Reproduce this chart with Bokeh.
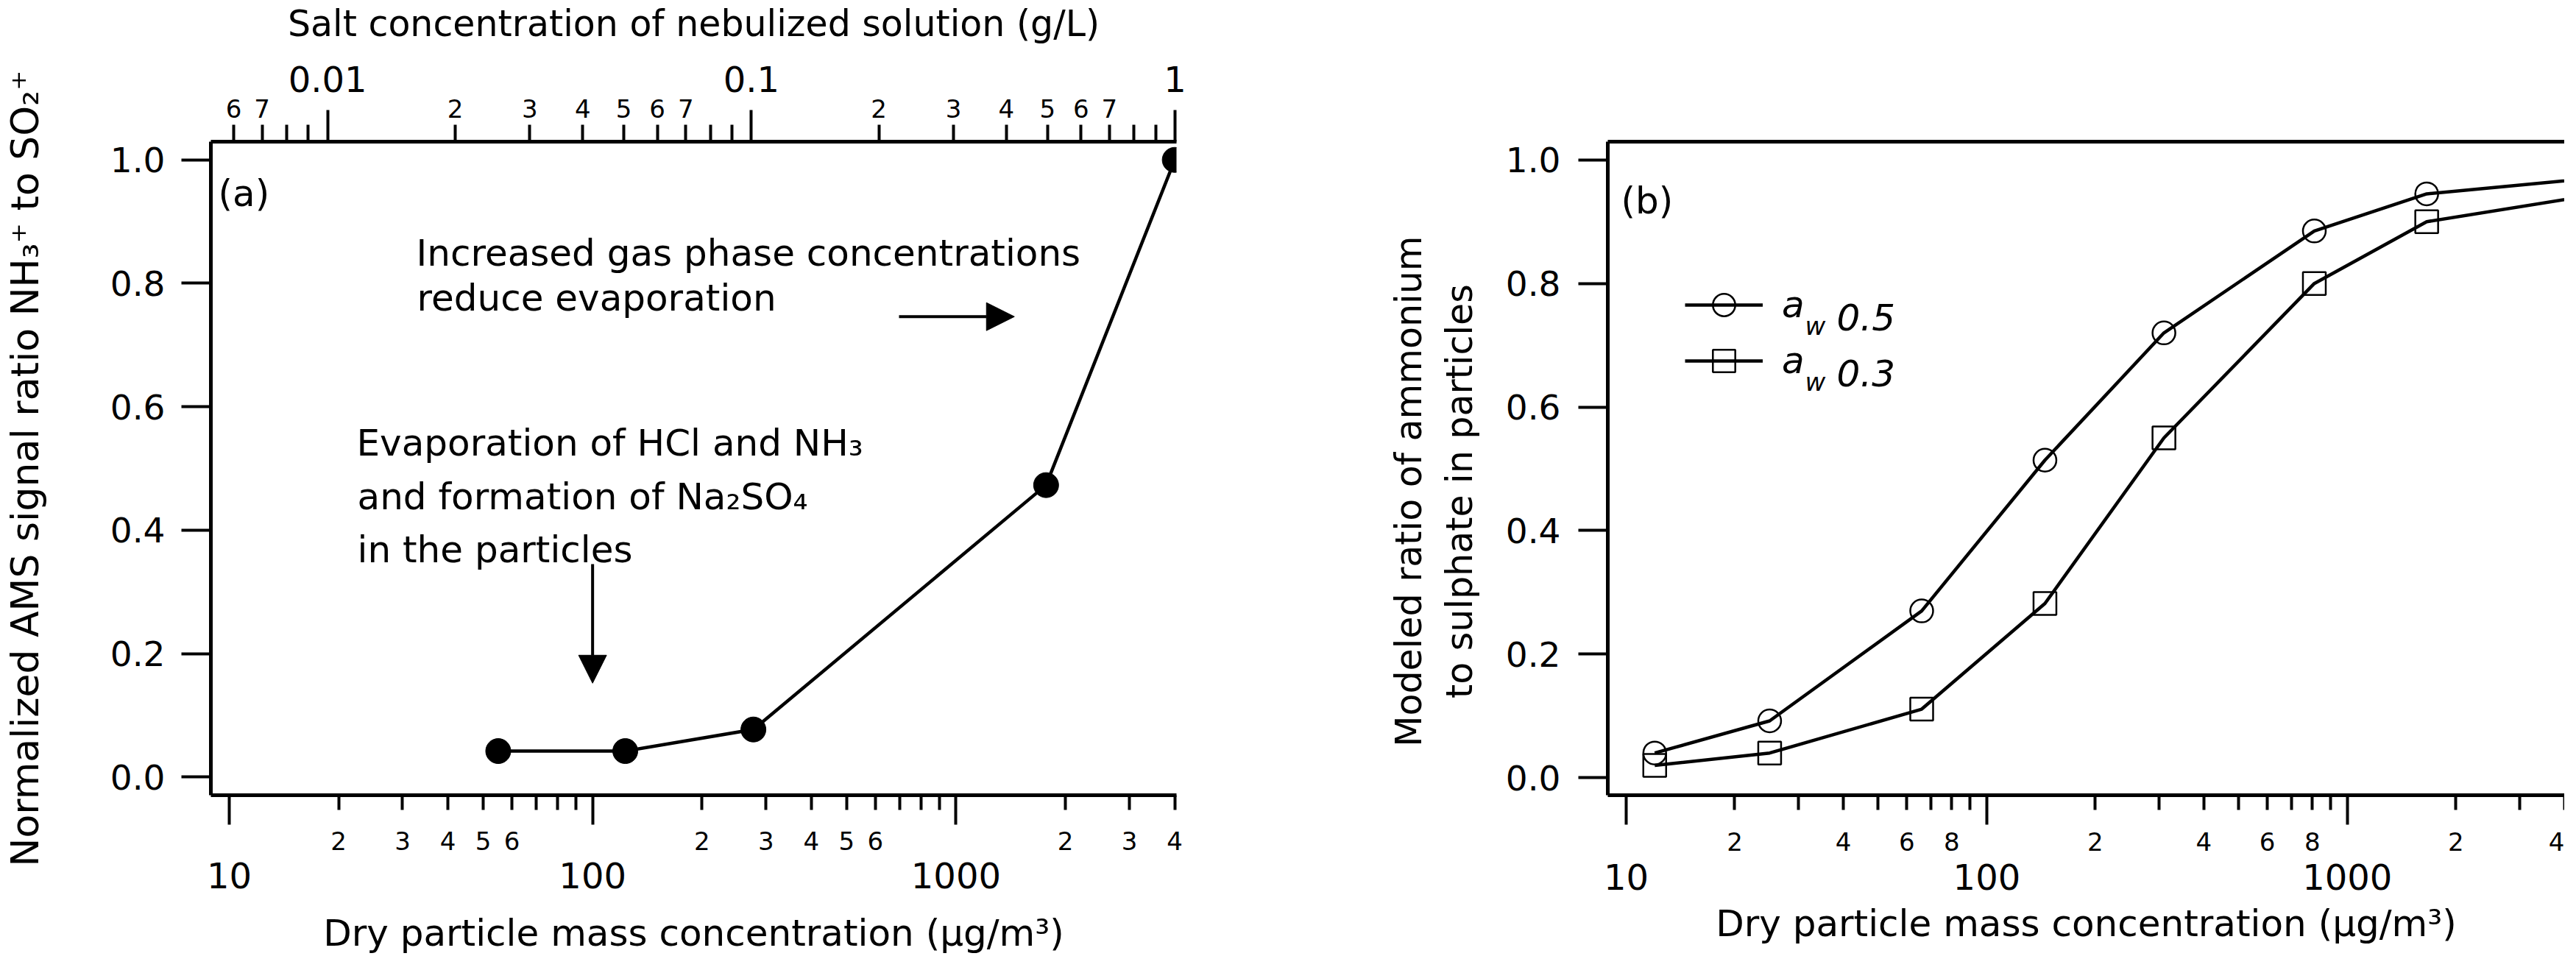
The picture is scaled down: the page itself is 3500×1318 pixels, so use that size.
from bokeh.plotting import figure
from bokeh.models import (LogAxis, LinearAxis, FixedTicker, Range1d, LogScale, Label,
                          Arrow, NormalHead, Legend, LegendItem, PrintfTickFormatter)
from bokeh.core.properties import value
from bokeh.layouts import row
from bokeh.embed import file_html
from bokeh.resources import INLINE

FONT = "DejaVu Sans"

# ---------------- data ----------------
# panel (a): measured AMS ratio vs dry particle mass concentration
a_mass = [55, 123, 277, 1770, 4000]
a_ratio = [0.042, 0.042, 0.077, 0.473, 1.0]

# panel (b): modeled ammonium / sulphate ratio
b_mass = [12, 25, 66, 145, 310, 810, 1660, 6600]
b_aw05 = [0.04, 0.092, 0.27, 0.514, 0.72, 0.885, 0.945, 0.978]
b_aw03 = [0.02, 0.04, 0.111, 0.282, 0.55, 0.80, 0.90, 0.956]

# tick values and labels
y_ticks = [0.0, 0.2, 0.4, 0.6, 0.8, 1.0]
mass_decades = [10, 100, 1000]
mass_decade_labels = ["10", "100", "1000"]
mass_sub = [20, 30, 40, 50, 60, 70, 80, 90, 200, 300, 400, 500, 600, 700, 800, 900, 2000, 3000, 4000]
mass_sub_labels_a = ["2", "3", "4", "5", "6", "", "", "", "2", "3", "4", "5", "6", "", "", "", "2", "3", "4"]
mass_sub_labels_b = ["2", "", "4", "", "6", "", "8", "", "2", "", "4", "", "6", "", "8", "", "2", "", "4"]
salt_decades = [0.01, 0.1, 1.0]
salt_decade_labels = ["0.01", "0.1", "1"]
salt_sub = [0.006, 0.007, 0.008, 0.009, 0.02, 0.03, 0.04, 0.05, 0.06, 0.07, 0.08, 0.09,
            0.2, 0.3, 0.4, 0.5, 0.6, 0.7, 0.8, 0.9]
salt_sub_labels = ["6", "7", "", "", "2", "3", "4", "5", "6", "7", "", "", "2", "3", "4", "5", "6", "7", "", ""]

x_title = "Dry particle mass concentration (\u00b5g/m\u00b3)"
salt_title = "Salt concentration of nebulized solution (g/L)"
ya_title = "Normalized AMS signal ratio NH\u2083\u207a to SO\u2082\u207a"
PAD = "\u00a0" * 4
yb_title = "Modeled ratio of ammonium" + PAD + "\nto sulphate in particles" + PAD


def style_axis(ax, tick_font="47px"):
    ax.axis_line_width = 5
    ax.axis_line_color = "black"
    ax.major_tick_line_width = 4
    ax.minor_tick_line_width = 4
    ax.major_tick_in = 0
    ax.minor_tick_in = 0
    ax.major_label_text_font = FONT
    ax.major_label_text_font_size = tick_font
    ax.major_label_text_color = "black"
    ax.axis_label_text_font = FONT
    ax.axis_label_text_font_style = "normal"
    ax.axis_label_text_color = "black"


def bare(ax):
    ax.axis_line_color = None
    ax.major_tick_line_color = None
    ax.minor_tick_line_color = None
    ax.major_tick_out = 0
    ax.minor_tick_out = 0


def tick_axis(p, side, ticks_long, ticks_short, long_out, short_out, rname="default"):
    ax = LogAxis(x_range_name=rname, ticker=FixedTicker(ticks=ticks_long, minor_ticks=ticks_short),
                 major_label_overrides={t: "" for t in ticks_long})
    style_axis(ax, "1px")
    ax.major_tick_out = long_out
    ax.minor_tick_out = short_out
    ax.major_label_standoff = 0
    p.add_layout(ax, side)


def label_axis(p, side, ticks, labels, size, standoff, rname="default", title=None,
               title_size="50px", title_standoff=5):
    ax = LogAxis(x_range_name=rname, ticker=FixedTicker(ticks=ticks),
                 major_label_overrides=dict(zip(ticks, labels)))
    style_axis(ax, size)
    bare(ax)
    ax.major_label_standoff = standoff
    if title is not None:
        ax.axis_label = title
        ax.axis_label_text_font_size = title_size
        ax.axis_label_standoff = title_standoff
    p.add_layout(ax, side)


def add_text(p, x, y, text, size="50px", style="normal", align="left"):
    p.add_layout(Label(x=x, y=y, x_units="screen", y_units="screen", text=text,
                       text_font=FONT, text_font_size=size, text_font_style=style,
                       text_color="black", text_baseline="alphabetic", text_align=align))


# ---------------- panel (a) ----------------
pa = figure(width=1880, height=1302, x_axis_type="log", x_axis_location=None, y_axis_location=None,
            x_range=Range1d(8.903, 4044), y_range=Range1d(-0.0295, 1.0295),
            output_backend="svg", toolbar_location=None,
            min_border_left=284, min_border_right=282, min_border_top=189, min_border_bottom=216)
pa.outline_line_color = None
pa.background_fill_color = "white"
pa.grid.visible = False
pa.extra_x_ranges = {"salt": Range1d(0.0053, 1.008)}
pa.extra_x_scales = {"salt": LogScale()}

ya = LinearAxis(ticker=FixedTicker(ticks=y_ticks), formatter=PrintfTickFormatter(format="%.1f"),
                axis_label=ya_title)
style_axis(ya)
ya.major_tick_out = 40
ya.major_label_standoff = 22
ya.axis_label_text_font_size = "52px"
ya.axis_label_standoff = 83
pa.add_layout(ya, "left")

tick_axis(pa, "below", mass_decades, mass_sub, 40, 20)
label_axis(pa, "below", mass_sub, mass_sub_labels_a, "34px", 9)
label_axis(pa, "below", mass_decades, mass_decade_labels, "48px", 14,
           title=x_title, title_size="50px", title_standoff=29)

tick_axis(pa, "above", salt_decades, salt_sub, 43, 23, "salt")
label_axis(pa, "above", salt_sub, salt_sub_labels, "34px", -10, "salt")
label_axis(pa, "above", salt_decades, salt_decade_labels, "48px", 7, "salt",
           title=salt_title, title_size="49px", title_standoff=26)

pa.line(a_mass, a_ratio, line_width=4.5, line_color="black")
pa.scatter(a_mass, a_ratio, size=34, marker="circle", fill_color="black", line_color="black")

add_text(pa, 10, 818, "(a)")
add_text(pa, 279, 737, "Increased gas phase concentrations")
add_text(pa, 280, 676, "reduce evaporation")
add_text(pa, 198, 479, "Evaporation of HCl and NH\u2083")
add_text(pa, 199, 406, "and formation of Na\u2082SO\u2084")
add_text(pa, 199, 334, "in the particles")

pa.add_layout(Arrow(x_start=100, y_start=0.345, x_end=100, y_end=0.152, line_width=4, line_color="black",
                    end=NormalHead(size=38, fill_color="black", line_color="black")))
pa.add_layout(Arrow(x_start=697, y_start=0.746, x_end=1448, y_end=0.746, line_width=4, line_color="black",
                    end=NormalHead(size=38, fill_color="black", line_color="black")))

# ---------------- panel (b) ----------------
pb = figure(width=1604, height=1302, x_axis_type="log", x_axis_location=None, y_axis_location=None,
            x_range=Range1d(8.892, 4004), y_range=Range1d(-0.0283, 1.0295),
            output_backend="svg", toolbar_location=None,
            min_border_left=304, min_border_right=0, min_border_top=184, min_border_bottom=222)
pb.outline_line_color = None
pb.background_fill_color = "white"
pb.grid.visible = False

yb = LinearAxis(ticker=FixedTicker(ticks=y_ticks), formatter=PrintfTickFormatter(format="%.1f"),
                axis_label=yb_title)
style_axis(yb)
yb.major_tick_out = 40
yb.major_label_standoff = 24
yb.axis_label_text_font_size = "49px"
yb.axis_label_standoff = 31
pb.add_layout(yb, "left")

tick_axis(pb, "below", mass_decades, mass_sub, 40, 20)
label_axis(pb, "below", mass_sub, mass_sub_labels_b, "34px", 10)
label_axis(pb, "below", mass_decades, mass_decade_labels, "48px", 15,
           title=x_title, title_size="50px", title_standoff=14)

txb = LogAxis(ticker=FixedTicker(ticks=[]))
style_axis(txb)
txb.major_tick_out = 0
txb.minor_tick_out = 0
txb.major_label_standoff = 0
pb.add_layout(txb, "above")

l05 = pb.line(b_mass, b_aw05, line_width=4.5, line_color="black")
s05 = pb.scatter(b_mass, b_aw05, size=31, marker="circle", fill_alpha=0, line_color="black", line_width=2.5)
l03 = pb.line(b_mass, b_aw03, line_width=4.5, line_color="black")
s03 = pb.scatter(b_mass, b_aw03, size=31, marker="square", fill_alpha=0, line_color="black", line_width=2.5)

legend = Legend(items=[LegendItem(label=value("a"), renderers=[l05, s05]),
                       LegendItem(label=value("a"), renderers=[l03, s03])],
                location=(105, 552), glyph_width=106, glyph_height=76, label_height=76, spacing=0,
                padding=0, margin=0, label_standoff=26, border_line_color=None,
                background_fill_alpha=0, label_text_font=FONT, label_text_font_size="50px",
                label_text_font_style="italic", label_text_color="black")
pb.add_layout(legend)
add_text(pb, 268, 638, "w", size="34px", style="italic")
add_text(pb, 311, 650, "0.5", size="50px", style="italic")
add_text(pb, 268, 562, "w", size="34px", style="italic")
add_text(pb, 311, 574, "0.3", size="50px", style="italic")

add_text(pb, 18, 808, "(b)")

layout = row(pa, pb)
open("out.html", "w").write(file_html(layout, INLINE))
